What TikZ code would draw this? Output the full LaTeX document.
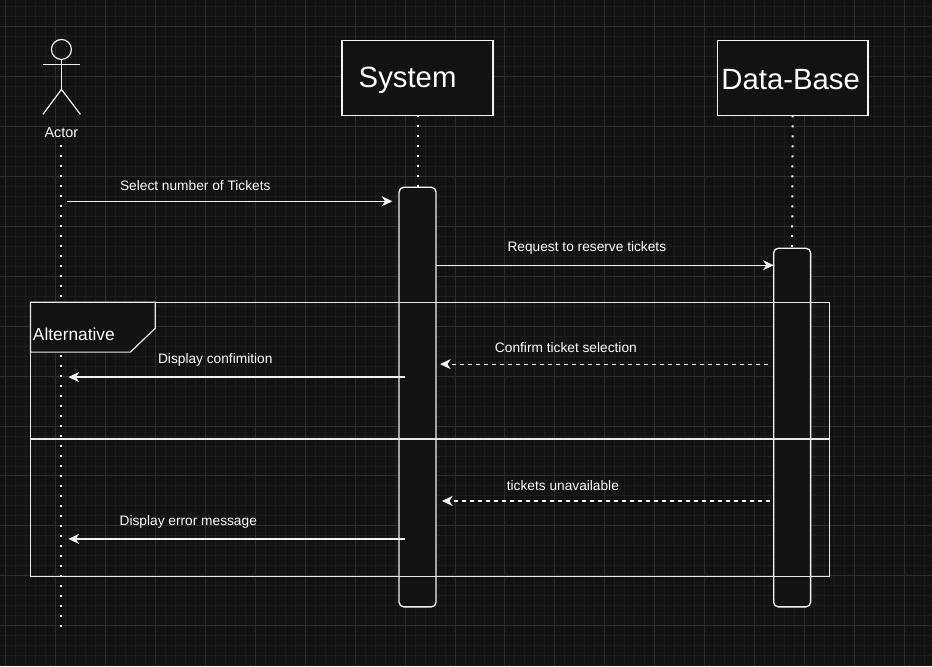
\documentclass[tikz,border=0pt]{standalone}
\usepackage{fontspec}
\setmainfont{Liberation Sans}
\usetikzlibrary{positioning, arrows.meta, calc}
\definecolor{bgdark}{HTML}{121212}
\definecolor{gridminor}{HTML}{1C1C1C}
\definecolor{gridmajor}{HTML}{2E2E2E}
\definecolor{linewhite}{HTML}{F2F2F2}
\definecolor{framegrey}{HTML}{E8E8E8}
\tikzset{
    x=0.75pt, y=-0.75pt, % one unit is one pixel, y grows downwards
    every node/.style={text=white, inner sep=0pt, outer sep=0pt},
    partbox/.style={ % Sets the properties for each participant box
        draw=linewhite, line width=1pt, fill=bgdark,
        minimum width=113.25pt, minimum height=56.25pt
    },
    parttext/.style={font=\fontsize{22}{26}\selectfont},
    actbox/.style={ % Sets the properties for each activation bar
        draw=linewhite, line width=1pt, fill=bgdark,
        rounded corners=3.5pt, minimum width=27.75pt
    },
    lifeline/.style={
        draw=white, line width=1.5pt, dash pattern=on 1.5pt off 6pt
    },
    msg/.style={ % Sets the properties for each message
        draw=linewhite, line width=0.9pt,
        -{Stealth[length=8pt, width=7.5pt, inset=2.5pt]}
    },
    reply/.style={msg, dash pattern=on 3pt off 3pt},
    msgtext/.style={font=\fontsize{10.3}{12}\selectfont, yshift=-1pt},
    altframe/.style={draw=framegrey, line width=0.9pt}
}
\begin{document}
\begin{tikzpicture}
    % background and grid
    \fill[bgdark] (0,0) rectangle (932,666);
    \foreach \gx in {5,15,...,925} \draw[gridminor, line width=0.75pt] (\gx,0) -- (\gx,666);
    \foreach \gy in {6,16,...,666} \draw[gridminor, line width=0.75pt] (0,\gy) -- (932,\gy);
    \foreach \gx in {5,55,...,905} \draw[gridmajor, line width=0.75pt] (\gx,0) -- (\gx,666);
    \foreach \gy in {26,76,...,626} \draw[gridmajor, line width=0.75pt] (0,\gy) -- (932,\gy);
    \useasboundingbox (0,0) rectangle (932,666);

    % actor
    \coordinate (actor) at (61,49);
    \begin{scope}[shift={(actor)}, draw=linewhite, line width=0.9pt]
        \draw (0,0) circle[radius=7.5pt];
        \draw (-18.5,15) -- (19,15);
        \draw (0,10) -- (0,40);
        \draw (-18.5,65) -- (0,40) -- (19,65);
    \end{scope}
    \node[font=\fontsize{10.8}{12}\selectfont] (actorlbl) at (61,132) {Actor};
    \coordinate (actortop) at (61,145);
    \coordinate (actorend) at (61,629);
    \draw[lifeline] (actortop) -- (actorend);

    % participants
    \node[partbox, label={[parttext, xshift=-7.5pt, yshift=-1.5pt]center:System}] (sys) at (417.5,77.5) {};
    \node[partbox, label={[parttext, xshift=-1.5pt, yshift=-1pt]center:Data-Base}] (db) at (793,77.5) {};
    \node[actbox, minimum height=315pt] (sysact) at (417.5,397) {};
    \node[actbox, minimum height=269.25pt] (dbact) at (792.5,427.5) {};
    \draw[lifeline] (sys.south) -- (sysact.north);
    \draw[lifeline] (db.south) -- (dbact.north);

    % alternative frame
    \node[altframe, minimum width=600pt, minimum height=206.25pt] (alt) at (430,439.5) {};
    \coordinate (divider) at (30,439);
    \draw[altframe] (divider) -- (divider -| alt.east);
    \draw[altframe, fill=bgdark] (alt.north west) -- ++(125,0) -- ++(0,26)
        -- ++(-25,24) -- ++(-100,0) -- cycle;
    \node[font=\fontsize{13}{15}\selectfont, anchor=west] (altlbl) at (32.5,334) {Alternative};

    % messages
    \coordinate (m1) at (67,201);
    \coordinate (m2) at (0,265);
    \coordinate (m3) at (768,364);
    \coordinate (m4) at (405,377);
    \coordinate (m5) at (770,501);
    \coordinate (m6) at (405,539);
    \draw[msg, shorten >=5pt] (m1) -- (m1 -| sysact.west);
    \draw[msg] (m2 -| sysact.east) -- (m2 -| dbact.west);
    \draw[reply] (m3) -- ($(m3 -| sysact.east)+(4,0)$);
    \draw[msg] (m4) -- ($(m4 -| actortop)+(7,0)$);
    \draw[reply] (m5) -- ($(m5 -| sysact.east)+(6,0)$);
    \draw[msg] (m6) -- ($(m6 -| actortop)+(7,0)$);
    \node[msgtext] (t1) at (195,184) {Select number of Tickets};
    \node[msgtext] (t2) at (587,246) {Request to reserve tickets};
    \node[msgtext] (t3) at (566,346) {Confirm ticket selection};
    \node[msgtext] (t4) at (215,359) {Display confimition};
    \node[msgtext] (t5) at (563,484) {tickets unavailable};
    \node[msgtext] (t6) at (188,521) {Display error message};
\end{tikzpicture}
\end{document}
